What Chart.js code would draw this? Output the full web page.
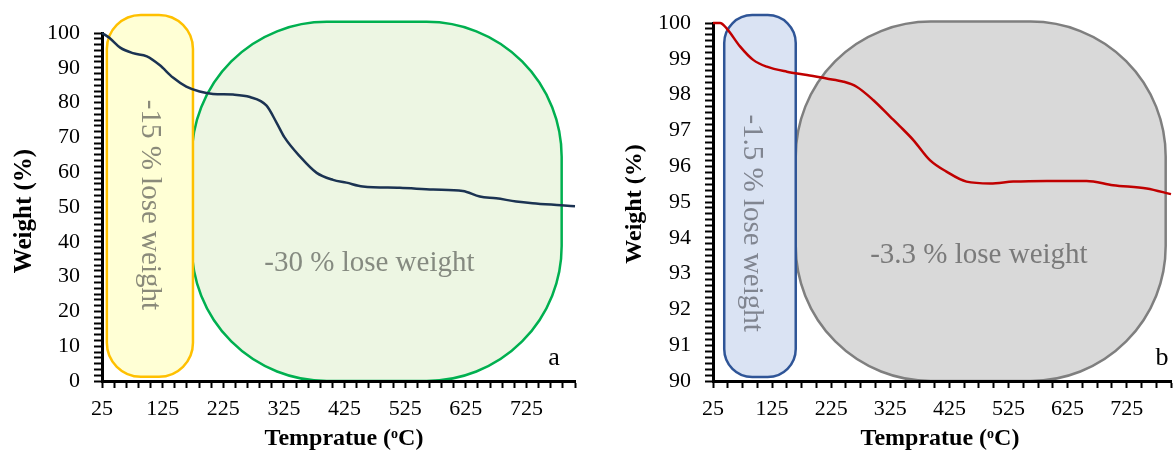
<!DOCTYPE html>
<html>
<head>
<meta charset="utf-8">
<script src="https://cdn.jsdelivr.net/npm/chart.js@4.4.0/dist/chart.umd.min.js"></script>
<style>
body{margin:0;background:#fff;width:1173px;height:452px;overflow:hidden;position:relative}
#wa{position:absolute;left:0;top:0}
#wb{position:absolute;left:600px;top:0}
</style>
</head>
<body>
<div id="wa"><canvas id="chartA" width="600" height="452"></canvas></div>
<div id="wb"><canvas id="chartB" width="573" height="452"></canvas></div>
<script>
// curve a (temperature in degC, weight in %)
const tempA = [25, 38, 55, 76, 99, 120, 142, 164, 186, 208, 241, 269, 296, 313, 326, 351, 379, 406, 428, 455, 516, 571, 620, 648, 675, 708, 735, 782, 805];
const weightA = [100, 98.5, 95.8, 94.2, 93.3, 90.8, 87.2, 84.6, 83.2, 82.5, 82.3, 81.6, 79.2, 74.2, 70.0, 64.6, 59.8, 57.8, 57.0, 55.9, 55.5, 55.0, 54.6, 53.0, 52.5, 51.6, 51.1, 50.5, 50.2];

// curve b
const tempB = [25, 37, 48, 71, 93, 116, 150, 184, 217, 246, 268, 296, 325, 341, 364, 392, 420, 454, 494, 533, 590, 657, 702, 759, 800];
const weightB = [100, 100, 99.85, 99.34, 98.97, 98.78, 98.64, 98.55, 98.45, 98.36, 98.22, 97.85, 97.38, 97.12, 96.73, 96.17, 95.85, 95.57, 95.52, 95.57, 95.59, 95.59, 95.47, 95.38, 95.22];

const xLabels = [25, 125, 225, 325, 425, 525, 625, 725];
const yLabelsA = [0, 10, 20, 30, 40, 50, 60, 70, 80, 90, 100];
const yLabelsB = [90, 91, 92, 93, 94, 95, 96, 97, 98, 99, 100];

// weight-loss regions: [x0, x1, y0, y1] in data units, label anchor [x, y]
const regionsA = [
  {box: [173, 783, 0, 103.2], at: [466, 33.9], text: '-30 % lose weight', vertical: false},
  {box: [33, 175, 1.2, 105.2], at: [104, 50.6], text: '-15 % lose weight', vertical: true}
];
const regionsB = [
  {box: [165, 791, 90, 100.04], at: [475, 93.52], text: '-3.3 % lose weight', vertical: false},
  {box: [44, 165, 90.11, 100.22], at: [90.5, 94.41], text: '-1.5 % lose weight', vertical: true}
];

const SERIF = '"Liberation Serif", "Times New Roman", serif';

function roundBox(ctx, x, y, w, h, r) {
  r = Math.min(r, w / 2, h / 2);
  ctx.beginPath();
  ctx.moveTo(x + r, y);
  ctx.lineTo(x + w - r, y);
  ctx.arcTo(x + w, y, x + w, y + r, r);
  ctx.lineTo(x + w, y + h - r);
  ctx.arcTo(x + w, y + h, x + w - r, y + h, r);
  ctx.lineTo(x + r, y + h);
  ctx.arcTo(x, y + h, x, y + h - r, r);
  ctx.lineTo(x, y + r);
  ctx.arcTo(x, y, x + r, y, r);
  ctx.closePath();
}

const decor = {
  id: 'decor',
  beforeDraw(chart, args, o) {
    const ctx = chart.ctx, sx = chart.scales.x, sy = chart.scales.y;
    ctx.save();
    o.regions.forEach((r, i) => {
      const st = o.styles[i];
      const x0 = sx.getPixelForValue(r.box[0]), x1 = sx.getPixelForValue(r.box[1]);
      const y0 = sy.getPixelForValue(r.box[3]), y1 = sy.getPixelForValue(r.box[2]);
      roundBox(ctx, x0, y0, x1 - x0, y1 - y0, st.radius);
      ctx.fillStyle = st.fill;
      ctx.fill();
      ctx.lineWidth = 2.5;
      ctx.strokeStyle = st.stroke;
      ctx.stroke();
      ctx.save();
      ctx.translate(sx.getPixelForValue(r.at[0]), sy.getPixelForValue(r.at[1]));
      if (r.vertical) ctx.rotate(Math.PI / 2);
      ctx.font = '29px ' + SERIF;
      ctx.fillStyle = st.textColor;
      ctx.textAlign = 'center';
      ctx.textBaseline = 'middle';
      ctx.fillText(r.text, 0, 0);
      ctx.restore();
    });
    ctx.restore();
  },
  afterDraw(chart, args, o) {
    const ctx = chart.ctx;
    ctx.save();
    ctx.fillStyle = '#000';
    // y title
    ctx.save();
    ctx.translate(o.yTitle[0], o.yTitle[1]);
    ctx.rotate(-Math.PI / 2);
    ctx.font = 'bold ' + o.titleSize + 'px ' + SERIF;
    ctx.textAlign = 'center';
    ctx.textBaseline = 'middle';
    ctx.fillText('Weight (%)', 0, 0);
    ctx.restore();
    // x title with superscript o
    const big = 'bold 24px ' + SERIF, small = 'bold 14px ' + SERIF;
    ctx.textBaseline = 'alphabetic';
    ctx.textAlign = 'left';
    ctx.font = big;
    const w1 = ctx.measureText('Tempratue (').width, w3 = ctx.measureText('C)').width;
    ctx.font = small;
    const w2 = ctx.measureText('o').width;
    let x = o.xTitle[0] - (w1 + w2 + w3) / 2;
    const base = o.xTitle[1];
    ctx.font = big;
    ctx.fillText('Tempratue (', x, base);
    ctx.font = small;
    ctx.fillText('o', x + w1, base - 7);
    ctx.font = big;
    ctx.fillText('C)', x + w1 + w2, base);
    // panel tag
    ctx.font = '26px ' + SERIF;
    ctx.textAlign = 'center';
    ctx.fillText(o.tag, o.tagPos[0], o.tagPos[1]);
    ctx.restore();
  }
};

function makeChart(id, temps, weights, color, cfg) {
  const pts = temps.map((t, i) => ({x: t, y: weights[i]}));
  return new Chart(document.getElementById(id), {
    type: 'line',
    data: {datasets: [{
      data: pts,
      borderColor: color,
      borderWidth: 2.5,
      pointRadius: 0,
      cubicInterpolationMode: 'monotone',
      clip: 6
    }]},
    options: {
      responsive: false,
      animation: false,
      events: [],
      layout: {padding: {top: cfg.top, right: cfg.right, left: 0, bottom: 0}},
      plugins: {
        legend: {display: false},
        tooltip: {enabled: false},
        decor: cfg.decor
      },
      scales: {
        x: {
          type: 'linear',
          min: 25, max: cfg.xMax,
          afterBuildTicks: s => {
            const t = [];
            for (let v = 25; v <= cfg.xMax + 1e-6; v += cfg.xStep) t.push({value: v});
            s.ticks = t;
          },
          afterFit: s => { s.height = 71; s.paddingLeft = 0; s.paddingRight = 0; },
          ticks: {
            autoSkip: false, maxRotation: 0, padding: 8,
            color: '#000', font: {family: SERIF, size: 22},
            callback: v => xLabels.some(l => Math.abs(l - v) < 1e-6) ? String(Math.round(v)) : ''
          },
          grid: {drawOnChartArea: false, drawTicks: true, tickLength: 7, tickWidth: 2, tickColor: '#000'},
          border: {display: true, color: '#000', width: 3}
        },
        y: {
          type: 'linear',
          min: cfg.yMin, max: cfg.yMax,
          afterBuildTicks: s => {
            const t = [];
            const n = Math.round((cfg.yMax - cfg.yMin) / cfg.yMajor) * 6;
            for (let i = 0; i <= n; i++) t.push({value: cfg.yMin + i * cfg.yMajor / 6});
            s.ticks = t;
          },
          afterFit: s => { s.width = cfg.yWidth; s.paddingTop = 0; s.paddingBottom = 0; },
          ticks: {
            autoSkip: false, padding: cfg.yPad,
            color: '#000', font: {family: SERIF, size: 22},
            callback: v => cfg.yLabels.some(l => Math.abs(l - v) < 1e-6) ? String(Math.round(v)) : ''
          },
          grid: {drawOnChartArea: false, drawTicks: true, tickLength: 8, tickWidth: 2, tickColor: '#000'},
          border: {display: true, color: '#000', width: 3}
        }
      }
    },
    plugins: [decor]
  });
}

makeChart('chartA', tempA, weightA, '#1b3352', {
  top: 33, right: 25, yWidth: 102, yPad: 14,
  xMax: 805, xStep: 20, yMin: 0, yMax: 100, yMajor: 10, yLabels: yLabelsA,
  decor: {
    regions: regionsA,
    styles: [
      {fill: '#edf6e3', stroke: '#00b050', radius: 135, textColor: '#858a80'},
      {fill: '#ffffd5', stroke: '#ffc000', radius: 34, textColor: '#8a8a7a'}
    ],
    yTitle: [25, 211], titleSize: 25, xTitle: [344, 445], tag: 'a', tagPos: [554, 365]
  }
});

makeChart('chartB', tempB, weightB, '#c00000', {
  top: 23, right: 2, yWidth: 113, yPad: 14,
  xMax: 800, xStep: 25, yMin: 90, yMax: 100, yMajor: 1, yLabels: yLabelsB,
  decor: {
    regions: regionsB,
    styles: [
      {fill: '#d9d9d9', stroke: '#7f7f7f', radius: 135, textColor: '#7a7a7a'},
      {fill: '#dae3f3', stroke: '#2f5597', radius: 28, textColor: '#808590'}
    ],
    yTitle: [35, 204], titleSize: 24, xTitle: [340, 445], tag: 'b', tagPos: [562, 365]
  }
});
</script>
</body>
</html>
